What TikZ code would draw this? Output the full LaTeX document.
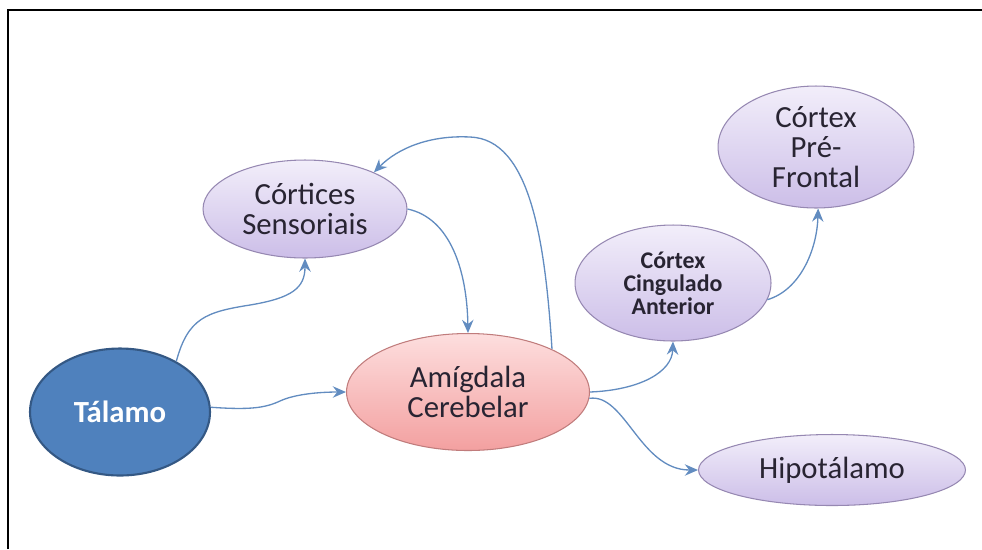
\documentclass[tikz,border=0pt]{standalone}
\usepackage{fontspec}
\setmainfont{Carlito}
\usepackage{tikz}
\usetikzlibrary{arrows.meta,shapes.geometric}
\definecolor{linkblue}{RGB}{98,140,192}
\definecolor{talfill}{RGB}{79,129,189}
\definecolor{taldraw}{RGB}{52,88,132}
\definecolor{lilaTop}{RGB}{242,238,250}
\definecolor{lilaBot}{RGB}{204,190,232}
\definecolor{lilaDraw}{RGB}{150,136,178}
\definecolor{rosaTop}{RGB}{253,222,222}
\definecolor{rosaBot}{RGB}{243,160,160}
\definecolor{rosaDraw}{RGB}{192,124,124}
\definecolor{txt}{RGB}{40,36,50}

\begin{document}
\begin{tikzpicture}[x=0.02cm, y=-0.02cm,
	blob/.style={ellipse, inner sep=0pt, align=center, text=txt,
		font=\fontsize{17.5}{17}\selectfont},
	lila/.style={blob, draw=lilaDraw, line width=0.6pt, top color=lilaTop, bottom color=lilaBot},
	rosa/.style={blob, draw=rosaDraw, line width=0.6pt, top color=rosaTop, bottom color=rosaBot},
	link/.style={draw=linkblue, line width=0.75pt, -{Stealth[length=7.5pt, width=6.5pt, inset=2.5pt]}}]
		%%%%% START %%%%%
		
		\useasboundingbox (0, 0) rectangle (982, 549);
		\draw[line width=1.2pt] (8, 549) -- (8, 10) -- (982, 10);
		
		\node[blob, draw=taldraw, line width=1.2pt, fill=talfill, text=white, font=\fontsize{17.5}{17}\selectfont\bfseries,
			minimum width=3.6cm, minimum height=2.54cm] (talamo) at (120, 412) {Tálamo};
		\node[lila, minimum width=4.08cm, minimum height=1.96cm] (sens) at (305, 209) {Córtices\\Sensoriais};
		\node[rosa, minimum width=4.86cm, minimum height=2.34cm] (amig) at (468, 392) {Amígdala\\Cerebelar};
		\node[lila, font=\fontsize{13.6}{13}\selectfont\bfseries,
			minimum width=3.92cm, minimum height=2.32cm] (cing) at (673, 283) {Córtex\\Cingulado\\Anterior};
		\node[lila, minimum width=3.92cm, minimum height=2.44cm] (pref) at (816, 147) {Córtex\\Pré-\\Frontal};
		\node[lila, minimum width=5.34cm, minimum height=1.42cm] (hipo) at (832, 470) {Hipotálamo};
		
		\draw[link] (talamo.42) .. controls (188, 318) and (206, 312) .. (250, 305)
			.. controls (292, 298) and (305, 288) .. (sens.south);
		\draw[link] (talamo.3) .. controls (250, 410) and (265, 408) .. (280, 401)
			.. controls (295, 394) and (320, 392) .. (amig.west);
		\draw[link] (sens.east) .. controls (450, 218) and (467, 270) .. (amig.north);
		\draw[link] (amig.27) .. controls (545, 240) and (530, 139) .. (470, 137)
			.. controls (430, 135) and (398, 148) .. (sens.28);
		\draw[link] (amig.east) .. controls (640, 390) and (672, 372) .. (cing.south);
		\draw[link] (cing.-10) .. controls (800, 290) and (817, 250) .. (pref.-88);
		\draw[link] (amig.-3) .. controls (625, 393) and (640, 470) .. (hipo.west);
		
		%%%%% END %%%%%
\end{tikzpicture}
\end{document}
